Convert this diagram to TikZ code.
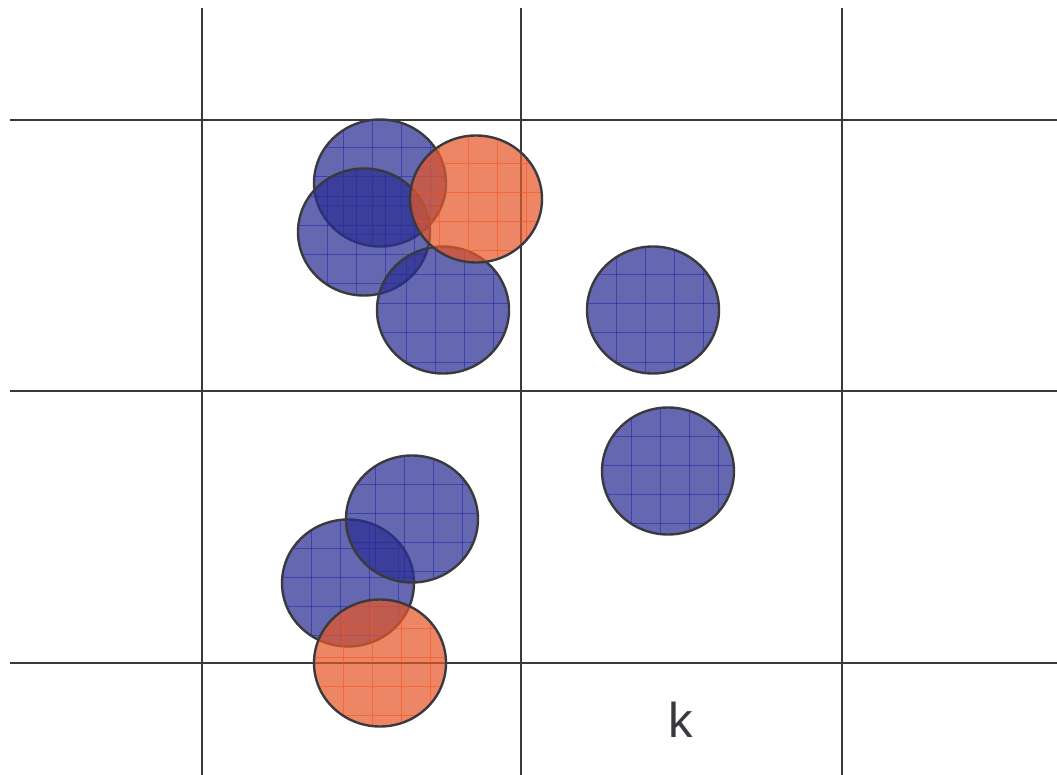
\documentclass[tikz,border=0pt]{standalone}
\usepackage{fontspec}
\setmainfont{Liberation Sans}
\usetikzlibrary{shapes.geometric}
\definecolor{lineGray}{RGB}{58,58,62}
\definecolor{blobBlue}{RGB}{42,46,145}
\definecolor{blobOrange}{RGB}{228,88,42}
\definecolor{meshBlue}{RGB}{32,36,165}
\definecolor{meshOrange}{RGB}{250,80,25}
\tikzset{
  blob/.style={ellipse,minimum width=132pt,minimum height=127pt,inner sep=0pt,
    draw=lineGray,line width=2.4pt,fill opacity=.72},
  mesh/.style={path picture={
    \foreach \k in {-3,...,3} {
      \draw[#1,line width=1pt,draw opacity=.55] (\k*29pt-8pt,-80pt) -- ++(0pt,160pt);
      \draw[#1,line width=1pt,draw opacity=.55] (-80pt,\k*29pt+6pt) -- ++(160pt,0pt);
    }}},
  blueblob/.style={blob,fill=blobBlue,mesh=meshBlue},
  orangeblob/.style={blob,fill=blobOrange,mesh=meshOrange},
}
\begin{document}
\begin{tikzpicture}[x=1pt,y=-1pt]
\useasboundingbox (0,0) rectangle (1057,775);
% cells
\foreach \gx in {202,521,842}
  \draw[lineGray,line width=2pt] (\gx,8) -- (\gx,775);
\foreach \gy in {120,391,663}
  \draw[lineGray,line width=2pt] (10,\gy) -- (1057,\gy);
% upper cluster
\node[blueblob] (b1) at (380,183) {};
\node[blueblob] (b2) at (364,232) {};
\node[blueblob] (b3) at (443,310) {};
\node[orangeblob] (o1) at (476,199) {};
\node[blueblob] (b4) at (653,310) {};
\node[blueblob] (b5) at (668,471) {};
% lower cluster
\node[blueblob] (b6) at (348,583) {};
\node[blueblob] (b7) at (412,519) {};
\node[orangeblob] (o2) at (380,663) {};
\node[text=lineGray,font=\fontsize{49}{50}\selectfont] (klabel) at (681,720) {k};
\end{tikzpicture}
\end{document}
